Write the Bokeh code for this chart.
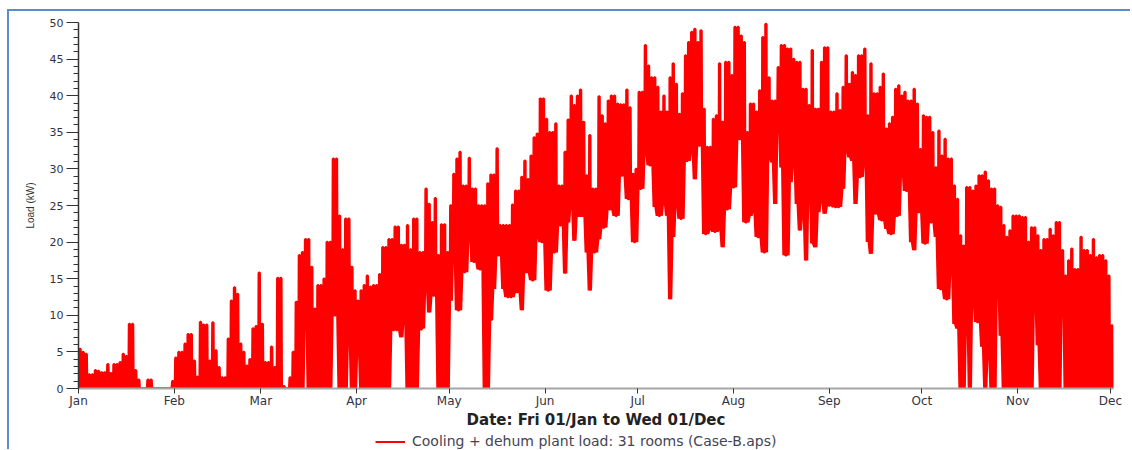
from bokeh.plotting import figure
from bokeh.layouts import column
from bokeh.models import FixedTicker, Legend, LegendItem, Range1d
from bokeh.embed import file_html
from bokeh.resources import INLINE

# ---- axis data ----
month_names = ["Jan", "Feb", "Mar", "Apr", "May", "Jun", "Jul", "Aug", "Sep", "Oct", "Nov", "Dec"]
month_start_day = [0, 31, 59, 90, 120, 151, 181, 212, 243, 273, 304, 334]
y_ticks = [0, 5, 10, 15, 20, 25, 30, 35, 40, 45, 50]
series_label = "Cooling + dehum plant load: 31 rooms (Case-B.aps)"

# ---- daily peak / overnight low of the plant load (kW) ----
peak_jan = [5.4, 5.0, 4.7, 1.9, 1.9, 2.5, 2.4, 2.2, 2.2, 3.3, 2.1, 3.3, 3.3, 3.6, 4.7, 4.4,
            8.8, 8.8, 2.5, 1.2, 0.0, 0.0, 1.2, 1.2, 0.0, 0.0, 0.0, 0.0, 0.0, 0.0, 1.0]
low_jan = [0.0] * 31

peak_feb = [4.2, 5.0, 5.0, 6.1, 7.4, 7.4, 3.8, 1.6, 9.1, 8.7, 8.7, 3.8, 9.0, 5.2, 2.9, 1.5,
            1.5, 6.8, 12.0, 13.8, 12.9, 6.1, 5.0, 3.1, 4.0, 8.2, 8.5, 15.8]
low_feb = [0.0] * 28

peak_mar = [8.8, 3.6, 3.6, 5.7, 2.9, 15.1, 15.1, 0.3, 0.0, 1.5, 5.0, 11.8, 18.2, 18.6, 20.4, 20.4,
            16.6, 10.9, 14.1, 14.1, 15.0, 20.0, 20.0, 31.4, 31.4, 23.6, 19.0, 23.2, 23.2, 16.6, 13.4]
low_mar = [0, 0, 0, 0, 0, 0, 0, 0, 0, 0, 0, 0, 0, 0, 11.0, 0,
           0, 0, 0, 0, 0, 0, 0, 10.0, 10.0, 0, 0, 0, 8.0, 0, 0]

peak_apr = [12.0, 13.4, 14.1, 15.4, 13.9, 14.1, 14.1, 15.6, 19.3, 19.3, 20.4, 20.4, 22.1, 22.1, 19.6,
            19.6, 22.3, 19.0, 23.2, 23.2, 18.6, 18.6, 27.3, 25.2, 22.7, 26.0, 18.2, 22.4, 22.4, 18.6]
low_apr = [6.0, 0, 0, 0, 0, 0, 0, 0, 0, 0, 0, 8.0, 8.0, 8.0, 7.0,
           10.0, 0, 0, 0, 0, 8.0, 8.2, 14.5, 10.4, 12.7, 12.7, 0, 0, 0, 0]

peak_may = [25.0, 29.3, 31.4, 32.3, 27.7, 27.7, 31.5, 27.3, 27.3, 25.0, 25.0, 25.0, 28.0, 29.2, 29.2, 32.8,
            22.3, 22.3, 22.3, 22.3, 25.1, 27.0, 27.0, 28.9, 31.1, 28.6, 31.8, 34.3, 34.8, 39.6, 39.6]
low_may = [12.0, 19.1, 10.7, 10.7, 15.9, 15.9, 21.4, 17.3, 17.3, 16.3, 16.3, 0, 0, 9.3, 13.6, 18.2,
           18.2, 13.6, 12.5, 12.5, 12.5, 13.2, 13.2, 10.7, 15.9, 15.9, 14.8, 14.8, 20.9, 20.0, 20.0]

peak_jun = [36.8, 35.0, 35.0, 36.2, 27.7, 27.7, 32.3, 36.7, 40.0, 38.7, 40.0, 40.8, 36.4, 29.1, 34.6,
            27.3, 27.3, 39.9, 37.3, 36.2, 39.3, 40.0, 40.0, 38.9, 38.8, 38.8, 40.8, 38.4, 29.3, 30.0]
low_jun = [13.4, 13.4, 18.6, 18.6, 22.3, 22.3, 15.7, 22.7, 25.5, 20.2, 23.6, 23.6, 23.6, 18.6, 13.4,
           18.6, 18.6, 20.4, 22.0, 22.0, 24.5, 24.5, 23.6, 23.6, 29.1, 29.1, 25.9, 25.9, 20.0, 20.0]

peak_jul = [40.5, 40.5, 46.9, 44.1, 42.5, 42.5, 41.2, 37.8, 40.0, 37.8, 42.5, 44.4, 41.6, 37.5, 40.3, 45.5,
            47.3, 48.7, 49.1, 47.3, 48.9, 38.2, 33.0, 33.0, 36.8, 37.3, 44.4, 36.4, 44.6, 44.6, 42.8]
low_jul = [27.3, 27.3, 32.7, 30.5, 30.5, 24.8, 23.6, 23.6, 25.7, 23.6, 12.2, 20.7, 25.5, 23.2, 23.2, 31.1,
           31.1, 32.7, 28.6, 33.2, 33.2, 21.1, 21.1, 21.8, 21.4, 21.4, 21.8, 19.3, 24.5, 24.5, 27.5]

peak_aug = [49.4, 49.4, 48.2, 47.3, 35.0, 38.9, 38.9, 37.8, 40.7, 48.0, 49.8, 42.5, 39.3, 39.3, 43.9, 46.9,
            46.9, 46.4, 46.4, 45.0, 44.6, 44.6, 40.9, 40.9, 38.7, 46.2, 38.2, 38.2, 44.6, 46.6, 46.6]
low_aug = [27.5, 34.1, 34.1, 22.7, 22.7, 23.6, 24.5, 20.7, 20.7, 18.6, 18.6, 31.8, 30.9, 25.2, 37.3, 30.2,
           18.2, 18.2, 28.2, 31.4, 25.2, 21.6, 24.1, 17.5, 27.7, 19.8, 19.3, 24.1, 25.9, 23.9, 25.0]

peak_sep = [37.8, 37.8, 40.3, 38.0, 41.2, 45.5, 41.6, 43.2, 42.8, 45.5, 45.5, 46.4, 37.3, 44.4, 40.3,
            40.3, 41.2, 43.0, 35.5, 36.2, 37.1, 40.9, 41.4, 40.0, 40.5, 39.3, 39.3, 40.9, 38.9, 32.7]
low_sep = [25.0, 24.8, 24.8, 24.8, 27.3, 32.7, 31.6, 31.1, 25.2, 28.9, 28.9, 31.4, 20.0, 18.4, 23.9,
           23.9, 23.0, 23.0, 21.8, 21.1, 21.1, 23.6, 23.6, 30.0, 27.0, 27.0, 20.0, 18.9, 24.1, 24.1]

peak_oct = [37.3, 37.1, 37.1, 35.0, 30.2, 35.2, 31.8, 34.1, 31.4, 31.4, 27.7, 25.9, 20.9, 19.5, 27.5, 27.5,
            27.0, 27.7, 29.1, 29.1, 29.6, 28.4, 27.3, 27.3, 25.0, 24.8, 22.3, 20.7, 21.6, 23.6, 23.6]
low_oct = [19.8, 19.8, 22.7, 22.7, 20.7, 13.6, 13.6, 12.2, 12.2, 17.3, 8.8, 8.2, 0, 0, 10.0, 0,
           12.5, 9.1, 9.1, 5.7, 0, 5.4, 0, 0, 15.2, 7.2, 0, 0, 0, 0, 0]

peak_nov = [23.6, 23.4, 23.4, 20.0, 22.0, 22.0, 20.9, 18.9, 20.4, 20.4, 21.8, 20.9, 22.7, 22.7, 18.9,
            15.4, 17.5, 19.1, 16.3, 16.3, 20.7, 18.9, 18.9, 18.2, 20.4, 17.9, 18.2, 18.2, 17.5, 15.4]
low_nov = [0, 0, 0, 0, 0, 12.7, 5.9, 0, 0, 0, 0, 0, 0, 0, 13.4,
           0, 0, 0, 0, 0, 0, 0, 0, 0, 0, 0, 0, 0, 0, 0]

peak_dec = [8.6]
low_dec = [0.0]

peaks = (peak_jan + peak_feb + peak_mar + peak_apr + peak_may + peak_jun + peak_jul +
         peak_aug + peak_sep + peak_oct + peak_nov + peak_dec)
lows = (low_jan + low_feb + low_mar + low_apr + low_may + low_jun + low_jul +
        low_aug + low_sep + low_oct + low_nov + low_dec)

# daily operating profile: overnight low -> daytime plateau -> overnight low
xs, ys, base = [], [], []
for d, (pk, lo) in enumerate(zip(peaks, lows)):
    xs += [d + 0.2, d + 0.35, d + 0.65, d + 0.8]
    ys += [lo, pk, pk, lo]
    base += [lo, lo, lo, lo]

RED = "#ff0000"
blue = "#5b8bd1"
vline_top = f"linear-gradient({blue},{blue}) 7px 9px / 2px 100% no-repeat"
vline_full = f"linear-gradient({blue},{blue}) 7px 0px / 2px 100% no-repeat"
hline = f"linear-gradient({blue},{blue}) 7px 9px / 100% 2px no-repeat"

p = figure(width=1130, height=434, output_backend="svg", toolbar_location=None,
           x_range=Range1d(0, 335), y_range=Range1d(0, 50),
           min_border_left=78, min_border_right=17, min_border_top=22, min_border_bottom=46,
           styles={"background": f"{vline_top}, {hline}, white"})
p.outline_line_color = None
p.xgrid.visible = False
p.ygrid.visible = False
p.background_fill_color = "white"
p.border_fill_color = None

p.varea(x=xs, y1=base, y2=ys, fill_color=RED)
p.line(xs, ys, line_color=RED, line_width=2.5, line_join="bevel")

tick_color = "#333344"
xa = p.xaxis[0]
xa.ticker = FixedTicker(ticks=month_start_day)
xa.major_label_overrides = {d: m for d, m in zip(month_start_day, month_names)}
xa.minor_tick_line_color = None
xa.major_tick_in = 0
xa.major_tick_out = 5
xa.major_tick_line_color = "#333333"
xa.axis_line_color = "#a6a6a6"
xa.axis_line_width = 2
xa.major_label_text_font = "DejaVu Sans"
xa.major_label_text_font_size = "12px"
xa.major_label_text_color = tick_color
xa.major_label_standoff = 0
xa.axis_label = "Date: Fri 01/Jan to Wed 01/Dec"
xa.axis_label_text_font = "DejaVu Sans"
xa.axis_label_text_font_size = "15px"
xa.axis_label_text_font_style = "bold"
xa.axis_label_text_color = "#222222"
xa.axis_label_standoff = 0

ya = p.yaxis[0]
ya.ticker = FixedTicker(ticks=y_ticks, minor_ticks=[v for v in range(0, 51) if v % 5])
ya.major_tick_in = 0
ya.major_tick_out = 12
ya.minor_tick_in = 0
ya.minor_tick_out = 5
ya.axis_line_color = "#333333"
ya.axis_line_width = 1.5
ya.major_tick_line_color = "#333333"
ya.minor_tick_line_color = "#333333"
ya.major_label_text_font = "DejaVu Sans"
ya.major_label_text_font_size = "11px"
ya.major_label_text_color = tick_color
ya.major_label_standoff = 3
ya.axis_label = "Load (kW)"
ya.axis_label_text_font = "Liberation Sans"
ya.axis_label_text_font_size = "10px"
ya.axis_label_text_font_style = "normal"
ya.axis_label_text_color = "#333333"
ya.axis_label_standoff = 11

# ---- legend strip under the chart (its frame is aligned with the chart frame) ----
leg = figure(width=1130, height=15, output_backend="svg", toolbar_location=None,
             x_axis_location=None, y_axis_location=None, min_border=0,
             x_range=Range1d(0, 335), y_range=Range1d(1000, 1001),
             styles={"background": f"{vline_full}, white"})
leg.outline_line_color = None
leg.xgrid.visible = False
leg.ygrid.visible = False
leg.background_fill_alpha = 0
leg.border_fill_color = None
# same series, drawn out of this strip's view: only its legend sample shows
proxy = leg.line(xs, ys, line_color=RED, line_width=2)
legend = Legend(items=[LegendItem(label=series_label, renderers=[proxy])],
                location=(297, 0), orientation="horizontal", border_line_color=None,
                background_fill_alpha=0, padding=0, margin=0, spacing=0,
                glyph_width=30, glyph_height=15, label_height=15,
                label_standoff=7, label_text_font="DejaVu Sans", label_text_font_size="14px",
                label_text_color="#444455")
leg.add_layout(legend, "center")

layout = column(p, leg, spacing=0)
open("out.html", "w").write(file_html(layout, INLINE))
